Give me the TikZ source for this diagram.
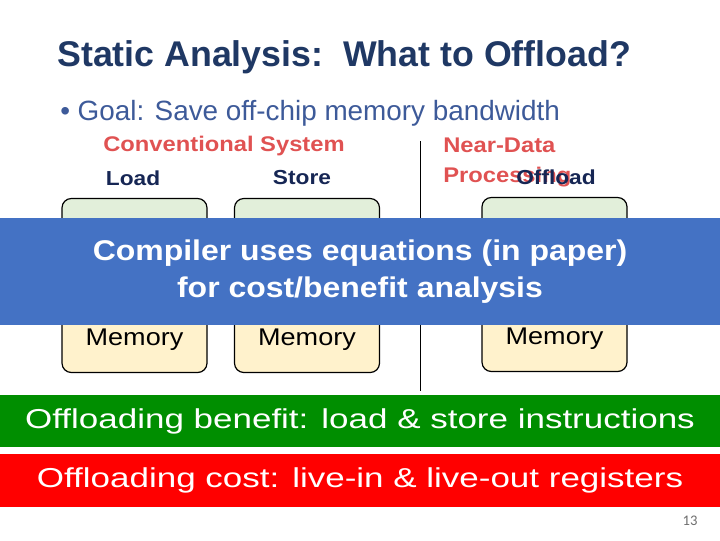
\documentclass[tikz,border=0pt]{standalone}
\usepackage{fontspec}
\setmainfont{Liberation Sans}
\newfontfamily\labelfont{Liberation Sans}[FakeStretch=1.12]
\newfontfamily\bandfont{Liberation Sans}[FakeStretch=1.28]
\newfontfamily\pagenumfont{Carlito}
\usetikzlibrary{
  positioning,
  calc
}
\definecolor{titlecolor}{RGB}{31, 56, 100}
\definecolor{goalcolor}{RGB}{61, 90, 153}
\definecolor{headcolor}{RGB}{224, 82, 82}
\definecolor{opcolor}{RGB}{22, 38, 84}
\definecolor{corefill}{RGB}{226, 239, 218}
\definecolor{memfill}{RGB}{255, 242, 204}
\definecolor{bannercolor}{RGB}{68, 114, 196}
\definecolor{benefitcolor}{RGB}{0, 142, 0}
\definecolor{costcolor}{RGB}{255, 0, 0}
\definecolor{pagecolor}{RGB}{110, 110, 110}
\tikzset{
titletext/.style={
  font=\fontsize{26.8}{30}\selectfont\bfseries,
  text=titlecolor,
  anchor=west,
  inner sep=0pt
},
goaltext/.style={
  font=\fontsize{20.9}{24}\selectfont,
  text=goalcolor,
  anchor=west,
  inner sep=0pt
},
headtext/.style={
  font=\labelfont\fontsize{15.9}{22.5}\selectfont\bfseries,
  text=headcolor,
  inner sep=0pt
},
optext/.style={
  font=\labelfont\fontsize{15.2}{18}\selectfont\bfseries,
  text=opcolor,
  inner sep=0pt
},
membox/.style={
  draw=black,
  line width=0.9pt,
  rounded corners=7pt,
  minimum width=108.75pt,
  minimum height=130.5pt,
  path picture={
    \fill[corefill] (path picture bounding box.north west)
      rectangle ([yshift=-68pt]path picture bounding box.north east);
    \fill[memfill] ([yshift=-68pt]path picture bounding box.north west)
      rectangle (path picture bounding box.south east);
  }
},
memtext/.style={
  font=\labelfont\fontsize{18.1}{20}\selectfont,
  text=black,
  inner sep=0pt
},
band/.style={
  minimum width=540pt,
  inner sep=0pt,
  align=center,
  text=white
},
divider/.style={
  draw=black,
  line width=0.6pt
}
}

\begin{document}
\begin{tikzpicture}[x=0.75pt, y=-0.75pt]
  \useasboundingbox (0,0) rectangle (720,540);

  % Title and goal
  \node[titletext] (title) at (57,57) {Static Analysis:\ \ What to Offload?};
  \node[goaltext] (goal) at (60,113) {\textbullet\ Goal: Save off-chip memory bandwidth};

  % Conventional system
  \node[headtext] (conv) at (224,146) {Conventional System};
  \node[optext] (load) at (133,178) {Load};
  \node[optext] (store) at (302,178) {Store};
  \node[membox] (loadbox) at (134.5,285.5) {};
  \node[membox] (storebox) at (307,285.5) {};
  \node[memtext] (loadmem) at (134.5,340) {Memory};
  \node[memtext] (storemem) at (307,340) {Memory};

  % Divider
  \coordinate (divtop) at (420,141);
  \coordinate (divbot) at (420,391);
  \draw[divider] (divtop) -- (divbot);

  % Near-data processing
  \node[headtext, anchor=west, align=left] (ndp) at (443,162) {Near-Data\\Processing};
  \node[optext] (offload) at (556,177) {Offload};
  \node[membox] (ndpbox) at (554.5,284.5) {};
  \node[memtext] (ndpmem) at (554.5,339) {Memory};

  % Banner over the boxes
  \node[band, fill=bannercolor, minimum height=80.25pt,
        font=\labelfont\fontsize{21.4}{27.75}\selectfont\bfseries] (banner) at (360,271.5)
    {Compiler uses equations (in paper)\\for cost/benefit analysis};

  % Benefit and cost
  \node[band, fill=benefitcolor, minimum height=39pt,
        font=\bandfont\fontsize{20.5}{24}\selectfont] (benefit) at (360,421)
    {Offloading benefit: load \& store instructions};
  \node[band, fill=costcolor, minimum height=39.75pt,
        font=\bandfont\fontsize{20.5}{24}\selectfont] (cost) at (360,480.5)
    {Offloading cost: live-in \& live-out registers};

  % Page number
  \node[font=\pagenumfont\fontsize{11}{13}\selectfont, text=pagecolor] (pagenum) at (690,521) {13};
\end{tikzpicture}
\end{document}
